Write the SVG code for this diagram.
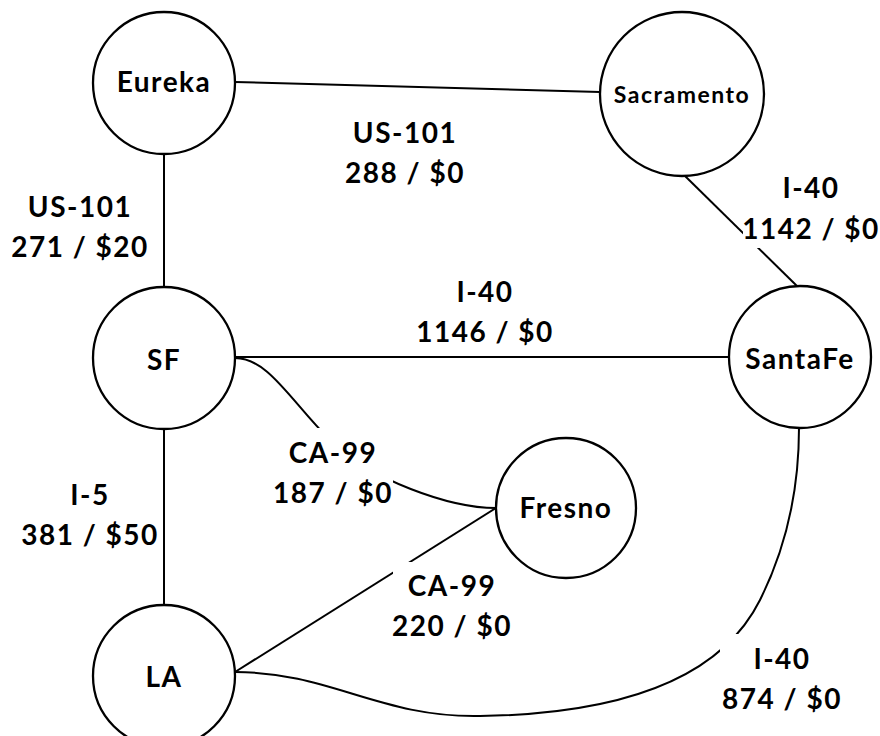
<svg xmlns="http://www.w3.org/2000/svg" width="880" height="736" viewBox="0 0 880 736">
<style>
.edge{fill:none;stroke:#000;stroke-width:2}
.node circle{fill:#fff;stroke:#000;stroke-width:2.3}
text{font-family:Lato,"Open Sans","Liberation Sans",sans-serif;font-weight:bold;font-size:28px;letter-spacing:1.5px;fill:#000;text-anchor:middle}
.bg{fill:#fff}
</style>
<rect width="880" height="736" fill="#fff"/>
<g id="connectors">
<path class="edge" d="M235,82 L600,92"/>
<path class="edge" d="M164,154 L164,287"/>
<path class="edge" d="M235,357 L729,357"/>
<path class="edge" d="M684,175 L798,287"/>
<path class="edge" d="M235,358 C268,358 290,400 330,440 S450,508 496,508"/>
<path class="edge" d="M164,429 L164,605"/>
<path class="edge" d="M496,508 L235,672"/>
<path class="edge" d="M235,672 C330,672 380,718 480,716 C620,714 720,680 760,600 C790,540 799,480 799,428"/>
</g>
<g id="edge-labels">
<g id="lbl-eureka-sacramento"><rect class="bg" x="345" y="118" width="120" height="76"/><text x="405" y="143">US-101</text><text x="405" y="183">288 / $0</text></g>
<g id="lbl-eureka-sf"><rect class="bg" x="10" y="190" width="145" height="76"/><text x="80" y="217">US-101</text><text x="80" y="257">271 / $20</text></g>
<g id="lbl-sf-santafe"><rect class="bg" x="418" y="276" width="134" height="74"/><text x="485" y="302">I-40</text><text x="485" y="342">1146 / $0</text></g>
<g id="lbl-sacramento-santafe"><rect class="bg" x="743" y="172" width="136" height="76"/><text x="811" y="198">I-40</text><text x="811" y="239">1142 / $0</text></g>
<g id="lbl-sf-fresno"><rect class="bg" x="275" y="428" width="118" height="84"/><text x="333" y="463">CA-99</text><text x="333" y="503">187 / $0</text></g>
<g id="lbl-sf-la"><rect class="bg" x="18" y="478" width="140" height="76"/><text x="90" y="505">I-5</text><text x="90" y="545">381 / $50</text></g>
<g id="lbl-fresno-la"><rect class="bg" x="393" y="562" width="118" height="84"/><text x="452" y="596">CA-99</text><text x="452" y="636">220 / $0</text></g>
<g id="lbl-la-santafe"><rect class="bg" x="720" y="634" width="124" height="82"/><text x="782" y="669">I-40</text><text x="782" y="709">874 / $0</text></g>
</g>
<g id="node-eureka" class="node"><circle cx="164" cy="83" r="71"/><text x="164" y="92">Eureka</text></g>
<g id="node-sacramento" class="node"><circle cx="682" cy="94" r="82"/><text x="682" y="103" style="font-size:23px">Sacramento</text></g>
<g id="node-sf" class="node"><circle cx="164" cy="358" r="71"/><text x="164" y="370">SF</text></g>
<g id="node-santafe" class="node"><circle cx="800" cy="357" r="71"/><text x="800" y="369">SantaFe</text></g>
<g id="node-fresno" class="node"><circle cx="566" cy="508" r="70"/><text x="566" y="518">Fresno</text></g>
<g id="node-la" class="node"><circle cx="164" cy="676" r="71"/><text x="164" y="687">LA</text></g>
</svg>
